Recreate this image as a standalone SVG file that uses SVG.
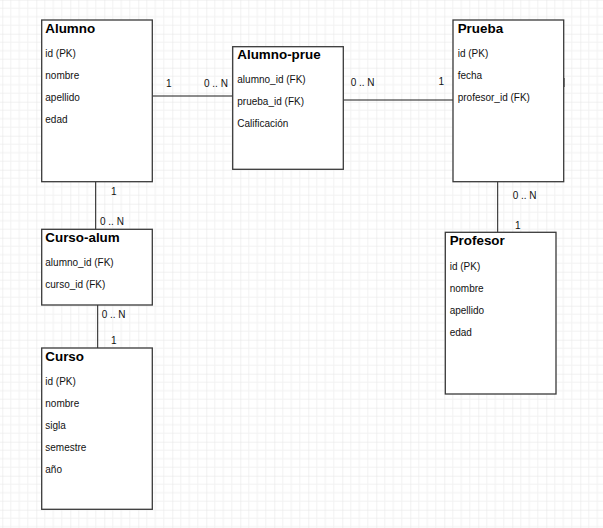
<svg xmlns="http://www.w3.org/2000/svg" width="603" height="528" viewBox="0 0 603 528">
<defs>
<pattern id="grid" patternUnits="userSpaceOnUse" x="2.3" y="-0.3" width="34" height="34">
<rect width="34" height="34" fill="#ffffff"/>
<path d="M8.5 0V34M17 0V34M25.5 0V34M0 8.5H34M0 17H34M0 25.5H34" stroke="#f2f2f2" stroke-width="1" fill="none"/>
<path d="M0 0V34M0 0H34" stroke="#e4e4e4" stroke-width="1" fill="none"/>
</pattern>
</defs>
<style>
.box{fill:#ffffff;stroke:#3a3a3a;stroke-width:1.3}
.title{font-family:"Liberation Sans",Arial,sans-serif;font-size:13.4px;font-weight:bold;fill:#000}
.attr{font-family:"Liberation Sans",Arial,sans-serif;font-size:10px;fill:#111}
.lbl{font-family:"Liberation Sans",Arial,sans-serif;font-size:10px;fill:#111}
.conn{stroke:#1a1a1a;stroke-width:1;fill:none}
</style>
<rect width="603" height="528" fill="url(#grid)"/>

<g id="connectors">
<path class="conn" d="M148 96H232.5"/>
<path class="conn" d="M152 83V89"/>
<path class="conn" d="M343.5 100H453"/>
<path class="conn" d="M564 78V87"/>
<path class="conn" d="M95.7 181.5V229.5"/>
<path class="conn" d="M97.7 305V348"/>
<path class="conn" d="M497.7 181.5V232.5"/>
<text class="lbl" x="166" y="87.3">1</text>
<text class="lbl" x="204" y="87.3">0 .. N</text>
<text class="lbl" x="350.7" y="85.7">0 .. N</text>
<text class="lbl" x="438.5" y="85">1</text>
<text class="lbl" x="111" y="195">1</text>
<text class="lbl" x="100" y="225">0 .. N</text>
<text class="lbl" x="101.7" y="317.7">0 .. N</text>
<text class="lbl" x="111" y="344">1</text>
<text class="lbl" x="512.7" y="199.3">0 .. N</text>
<text class="lbl" x="515" y="228.7">1</text>
</g>

<g id="alumno">
<rect class="box" x="41.7" y="20" width="110.6" height="161.7"/>
<text class="title" x="45.3" y="32.7">Alumno</text>
<text class="attr" x="45.3" y="56.7">id (PK)</text>
<text class="attr" x="45.3" y="78.7">nombre</text>
<text class="attr" x="45.3" y="100.7">apellido</text>
<text class="attr" x="45.3" y="122.7">edad</text>
</g>

<g id="alumno-prue">
<rect class="box" x="232.7" y="46.7" width="110.6" height="122.6"/>
<text class="title" x="237.3" y="59.3">Alumno-prue</text>
<text class="attr" x="237.3" y="83.3">alumno_id (FK)</text>
<text class="attr" x="237.3" y="105.3">prueba_id (FK)</text>
<text class="attr" x="237.3" y="127.3">Calificación</text>
</g>

<g id="prueba">
<rect class="box" x="453" y="20" width="110.7" height="161.7"/>
<text class="title" x="457.7" y="32.7">Prueba</text>
<text class="attr" x="457.7" y="56.7">id (PK)</text>
<text class="attr" x="457.7" y="78.7">fecha</text>
<text class="attr" x="457.7" y="100.7">profesor_id (FK)</text>
</g>

<g id="curso-alum">
<rect class="box" x="41.7" y="229.3" width="110.6" height="75.7"/>
<text class="title" x="45.3" y="242">Curso-alum</text>
<text class="attr" x="45.3" y="266">alumno_id (FK)</text>
<text class="attr" x="45.3" y="288">curso_id (FK)</text>
</g>

<g id="curso">
<rect class="box" x="41.7" y="348" width="110.6" height="161.3"/>
<text class="title" x="45.3" y="360.7">Curso</text>
<text class="attr" x="45.3" y="385.3">id (PK)</text>
<text class="attr" x="45.3" y="407.3">nombre</text>
<text class="attr" x="45.3" y="429.3">sigla</text>
<text class="attr" x="45.3" y="451.3">semestre</text>
<text class="attr" x="45.3" y="473.3">año</text>
</g>

<g id="profesor">
<rect class="box" x="445.3" y="232.3" width="110.7" height="161.7"/>
<text class="title" x="449.7" y="245.3">Profesor</text>
<text class="attr" x="449.7" y="270">id (PK)</text>
<text class="attr" x="449.7" y="292">nombre</text>
<text class="attr" x="449.7" y="314">apellido</text>
<text class="attr" x="449.7" y="336">edad</text>
</g>
</svg>
